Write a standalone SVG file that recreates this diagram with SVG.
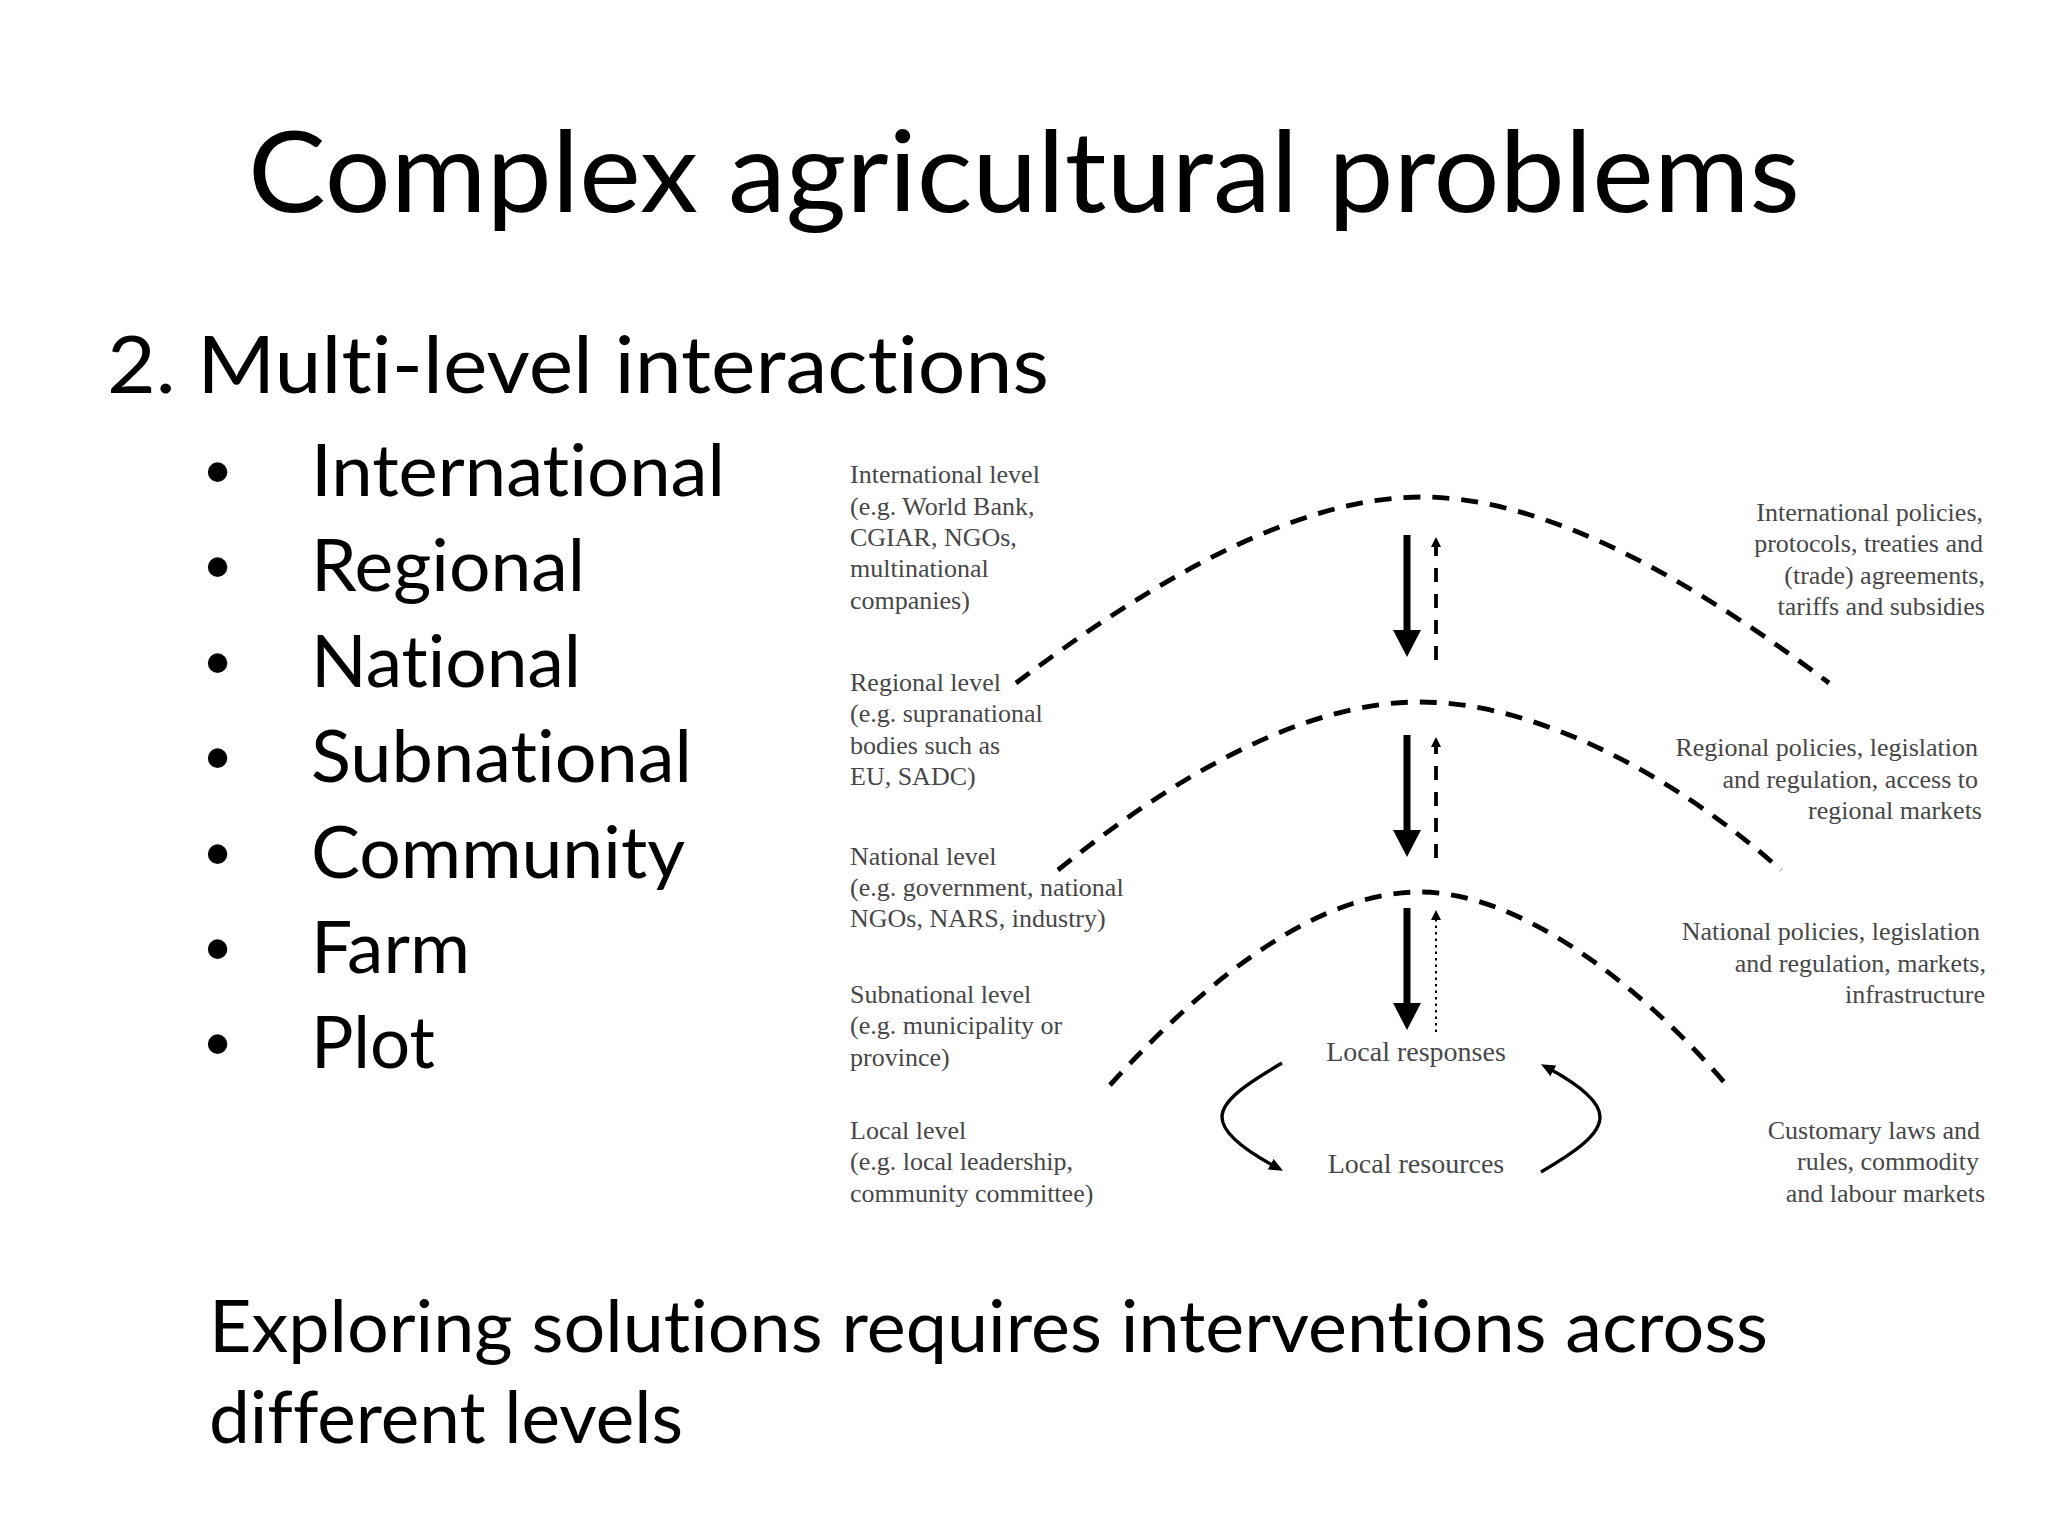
<svg xmlns="http://www.w3.org/2000/svg" width="2048" height="1536" viewBox="0 0 2048 1536">
<style>
.slide{font-family:Lato,"Open Sans","Liberation Sans",sans-serif;fill:#000;font-variant-ligatures:none;font-feature-settings:"liga" 0,"clig" 0}
.lbl{font-family:"Liberation Serif","DejaVu Serif",serif;font-size:26px;fill:#474747}
.lblr{font-family:"Liberation Serif","DejaVu Serif",serif;font-size:26px;fill:#474747;text-anchor:end}
.ctr{font-family:"Liberation Serif","DejaVu Serif",serif;font-size:28px;fill:#474747;text-anchor:middle}
.arc{fill:none;stroke:#000;stroke-width:4.8;stroke-dasharray:17 12}
.solid{stroke:#000;stroke-width:7;marker-end:url(#bigHead)}
.dash{stroke:#000;stroke-width:3.8;stroke-dasharray:14 12;marker-end:url(#smallHead)}
.dot{stroke:#000;stroke-width:2;stroke-dasharray:2.5 4;marker-end:url(#smallHead)}
.curve{fill:none;stroke:#000;stroke-width:3.4;marker-end:url(#curveHead)}
</style>
<defs>
<marker id="bigHead" markerUnits="userSpaceOnUse" markerWidth="30" markerHeight="30" refX="5" refY="14" orient="auto"><path d="M0,0 L27,14 L0,28 Z" fill="#000"/></marker>
<marker id="smallHead" markerUnits="userSpaceOnUse" markerWidth="12" markerHeight="12" refX="2" refY="5" orient="auto"><path d="M0,0 L10,5 L0,10 Z" fill="#000"/></marker>
<marker id="curveHead" markerUnits="userSpaceOnUse" markerWidth="16" markerHeight="16" refX="6" refY="6" orient="auto"><path d="M0,0 L14,6 L0,12 Z" fill="#000"/></marker>
</defs>
<rect width="2048" height="1536" fill="#fff"/>

<g id="title"><text class="slide" x="248" y="212" font-size="112" textLength="1552" lengthAdjust="spacingAndGlyphs">Complex agricultural problems</text></g>
<g id="subtitle"><text class="slide" x="107" y="393" font-size="80" textLength="942" lengthAdjust="spacingAndGlyphs">2. Multi-level interactions</text></g>
<g id="bullets" class="slide" font-size="72">
<g id="b-international"><text x="205" y="496" font-family="Liberation Sans,sans-serif">•</text><text x="311" y="496" textLength="414" lengthAdjust="spacingAndGlyphs">International</text></g>
<g id="b-regional"><text x="205" y="591" font-family="Liberation Sans,sans-serif">•</text><text x="311" y="591" textLength="274" lengthAdjust="spacingAndGlyphs">Regional</text></g>
<g id="b-national"><text x="205" y="687" font-family="Liberation Sans,sans-serif">•</text><text x="311" y="687" textLength="270" lengthAdjust="spacingAndGlyphs">National</text></g>
<g id="b-subnational"><text x="205" y="782" font-family="Liberation Sans,sans-serif">•</text><text x="311" y="782" textLength="381" lengthAdjust="spacingAndGlyphs">Subnational</text></g>
<g id="b-community"><text x="205" y="878" font-family="Liberation Sans,sans-serif">•</text><text x="311" y="878" textLength="374" lengthAdjust="spacingAndGlyphs">Community</text></g>
<g id="b-farm"><text x="205" y="973" font-family="Liberation Sans,sans-serif">•</text><text x="311" y="973" textLength="159" lengthAdjust="spacingAndGlyphs">Farm</text></g>
<g id="b-plot"><text x="205" y="1068" font-family="Liberation Sans,sans-serif">•</text><text x="311" y="1068" textLength="124" lengthAdjust="spacingAndGlyphs">Plot</text></g>
</g>
<g id="conclusion" class="slide" font-size="72">
<text x="209" y="1352" textLength="1559" lengthAdjust="spacingAndGlyphs">Exploring solutions requires interventions across</text>
<text x="209" y="1443" textLength="474" lengthAdjust="spacingAndGlyphs">different levels</text>
</g>

<g id="lbl-international-level" class="lbl">
<text x="850" y="483">International level</text>
<text x="850" y="515">(e.g. World Bank,</text>
<text x="850" y="546">CGIAR, NGOs,</text>
<text x="850" y="577">multinational</text>
<text x="850" y="609">companies)</text>
</g>
<g id="lbl-regional-level" class="lbl">
<text x="850" y="691">Regional level</text>
<text x="850" y="722">(e.g. supranational</text>
<text x="850" y="754">bodies such as</text>
<text x="850" y="785">EU, SADC)</text>
</g>
<g id="lbl-national-level" class="lbl">
<text x="850" y="865">National level</text>
<text x="850" y="896">(e.g. government, national</text>
<text x="850" y="927">NGOs, NARS, industry)</text>
</g>
<g id="lbl-subnational-level" class="lbl">
<text x="850" y="1003">Subnational level</text>
<text x="850" y="1034">(e.g. municipality or</text>
<text x="850" y="1066">province)</text>
</g>
<g id="lbl-local-level" class="lbl">
<text x="850" y="1139">Local level</text>
<text x="850" y="1170">(e.g. local leadership,</text>
<text x="850" y="1202">community committee)</text>
</g>

<g id="lbl-international-policies" class="lblr">
<text x="1983" y="521">International policies,</text>
<text x="1983" y="552">protocols, treaties and</text>
<text x="1985" y="584">(trade) agreements,</text>
<text x="1985" y="615">tariffs and subsidies</text>
</g>
<g id="lbl-regional-policies" class="lblr">
<text x="1978" y="756">Regional policies, legislation</text>
<text x="1978" y="788">and regulation, access to</text>
<text x="1982" y="819">regional markets</text>
</g>
<g id="lbl-national-policies" class="lblr">
<text x="1980" y="940">National policies, legislation</text>
<text x="1986" y="972">and regulation, markets,</text>
<text x="1985" y="1003">infrastructure</text>
</g>
<g id="lbl-customary" class="lblr">
<text x="1980" y="1139">Customary laws and</text>
<text x="1979" y="1170">rules, commodity</text>
<text x="1985" y="1202">and labour markets</text>
</g>

<g id="local-responses"><text class="ctr" x="1416" y="1061">Local responses</text></g>
<g id="local-resources"><text class="ctr" x="1416" y="1173">Local resources</text></g>

<g id="connectors">
<path class="arc" d="M1016,683 C1140,590 1290,497 1422,497 C1554,497 1705,590 1829,683"/>
<path class="arc" d="M1058,870 C1170,780 1300,702 1420,702 C1540,702 1680,780 1781,870"/>
<path class="arc" d="M1110,1085 C1210,975 1320,892 1420,892 C1520,892 1640,985 1724,1082"/>
<line class="solid" x1="1407" y1="535" x2="1407" y2="635"/>
<line class="dash" x1="1436" y1="660" x2="1436" y2="545"/>
<line class="solid" x1="1407" y1="735" x2="1407" y2="835"/>
<line class="dash" x1="1436" y1="858" x2="1436" y2="745"/>
<line class="solid" x1="1407" y1="908" x2="1407" y2="1008"/>
<line class="dot" x1="1436" y1="1032" x2="1436" y2="918"/>
<path class="curve" d="M1282,1063 C1248,1083 1222,1100 1222,1117 C1222,1134 1248,1152 1276,1167"/>
<path class="curve" d="M1541,1172 C1575,1152 1600,1135 1600,1117 C1600,1100 1574,1082 1548,1068"/>
</g>
</svg>
